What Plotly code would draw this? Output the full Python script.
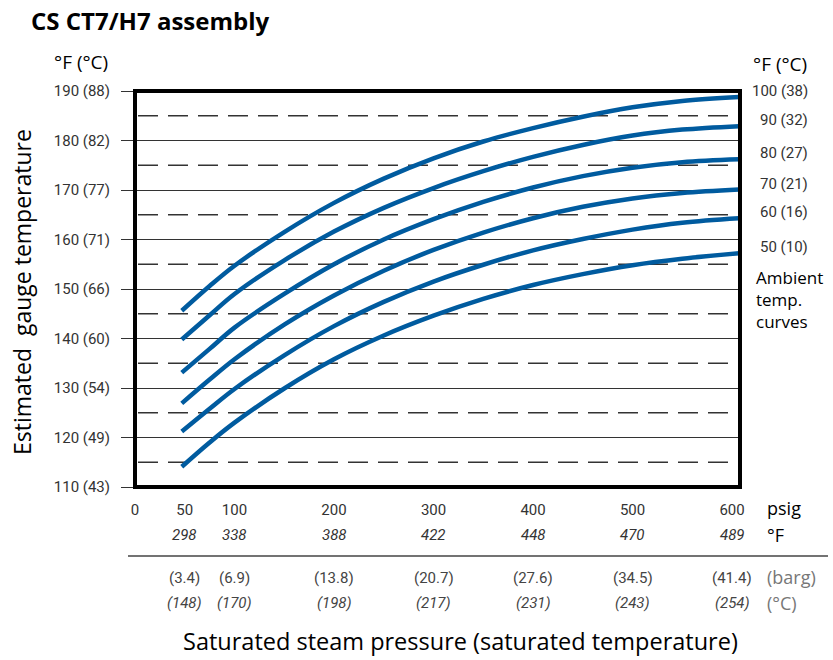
import plotly.graph_objects as go

# ---------------- data ----------------
PSIG = [47, 75, 100, 150, 200, 250, 300, 350, 400, 450, 500, 550, 607]

T_AMB_100 = [145.6, 150.6, 154.7, 161.5, 167.4, 172.3, 176.4, 179.8, 182.5, 184.8, 186.7, 188.0, 188.8]
T_AMB_90 = [139.8, 144.7, 149.0, 155.8, 161.6, 166.4, 170.4, 173.8, 176.7, 179.1, 181.0, 182.2, 182.9]
T_AMB_80 = [133.1, 137.9, 142.2, 149.0, 155.0, 160.0, 164.1, 167.6, 170.5, 172.8, 174.5, 175.6, 176.2]
T_AMB_70 = [126.9, 131.7, 135.8, 142.8, 148.7, 153.7, 157.9, 161.4, 164.3, 166.6, 168.3, 169.4, 170.1]
T_AMB_60 = [121.2, 125.8, 129.8, 136.6, 142.5, 147.4, 151.5, 154.9, 157.8, 160.1, 162.0, 163.4, 164.3]
T_AMB_50 = [114.1, 119.0, 123.0, 129.9, 135.8, 140.6, 144.6, 148.0, 150.8, 153.0, 154.8, 156.1, 157.2]

AMBIENT_LABELS = ["100 (38)", "90 (32)", "80 (27)", "70 (21)", "60 (16)", "50 (10)"]

Y_TICKS = [110, 120, 130, 140, 150, 160, 170, 180, 190]
Y_TICK_TEXT = ["110 (43)", "120 (49)", "130 (54)", "140 (60)", "150 (66)",
               "160 (71)", "170 (77)", "180 (82)", "190 (88)"]
DASHED_LEVELS = [115, 125, 135, 145, 155, 165, 175, 185]

X_TICKS = [0, 50, 100, 200, 300, 400, 500, 600]
X_TICK_TEXT = ["0", "50", "100", "200", "300", "400", "500", "600"]
SAT_TEMP_F = ["", "298", "338", "388", "422", "448", "470", "489"]
BARG = ["", "(3.4)", "(6.9)", "(13.8)", "(20.7)", "(27.6)", "(34.5)", "(41.4)"]
SAT_TEMP_C = ["", "(148)", "(170)", "(198)", "(217)", "(231)", "(243)", "(254)"]

# ---------------- layout helpers ----------------
W, H = 833, 660
L, R, T, B = 135, 740, 91, 487


def px_x(x):
    return (x - L) / (R - L)


def px_y(y):
    return (B - y) / (B - T)


BLUE = "#005b9f"
NUM_FONT = "Roboto"
TXT_FONT = "Open Sans"

fig = go.Figure()

curves = [T_AMB_100, T_AMB_90, T_AMB_80, T_AMB_70, T_AMB_60, T_AMB_50]
for vals, name in zip(curves, AMBIENT_LABELS):
    fig.add_trace(go.Scatter(
        x=PSIG, y=vals, mode="lines", name=name,
        line=dict(color=BLUE, width=4.5, shape="spline", smoothing=1.0),
        showlegend=False, hoverinfo="x+y",
    ))

shapes = []
for lvl in DASHED_LEVELS:
    shapes.append(dict(type="line", xref="paper", yref="y",
                       x0=px_x(138), x1=px_x(730), y0=lvl, y1=lvl,
                       line=dict(color="#333", width=1.3, dash="20px,10px"),
                       layer="below"))
# frame
shapes.append(dict(type="rect", xref="paper", yref="paper", x0=0, x1=1, y0=0, y1=1,
                   line=dict(color="black", width=4), layer="above"))
# separator line under °F row
shapes.append(dict(type="line", xref="paper", yref="paper",
                   x0=px_x(128), x1=px_x(828), y0=px_y(556), y1=px_y(556),
                   line=dict(color="#444", width=1.5)))

ann = []
ann.append(dict(text="<b>CS CT7/H7 assembly</b>", xref="paper", yref="paper",
                x=px_x(29), y=px_y(20), xanchor="left", yanchor="middle", showarrow=False,
                font=dict(family=TXT_FONT, size=24, color="black")))
ann.append(dict(text="°F (°C)", xref="paper", yref="paper",
                x=px_x(52), y=px_y(62), xanchor="left", yanchor="middle", showarrow=False,
                font=dict(family=TXT_FONT, size=19, color="black")))
ann.append(dict(text="°F (°C)", xref="paper", yref="paper",
                x=px_x(751), y=px_y(64), xanchor="left", yanchor="middle", showarrow=False,
                font=dict(family=TXT_FONT, size=19, color="black")))
ann.append(dict(text="Estimated  gauge temperature", xref="paper", yref="paper",
                x=px_x(22), y=px_y(292), xanchor="center", yanchor="middle", textangle=-90,
                showarrow=False, font=dict(family=TXT_FONT, size=23, color="black")))
ann.append(dict(text="Saturated steam pressure (saturated temperature)", xref="paper", yref="paper",
                x=px_x(460), y=px_y(641), xanchor="center", yanchor="middle",
                showarrow=False, font=dict(family=TXT_FONT, size=23.5, color="black")))

# ambient labels on right, at curve ends
for vals, lab in zip(curves, AMBIENT_LABELS):
    ann.append(dict(text=lab, xref="paper", yref="y", x=px_x(810), y=vals[-1],
                    xanchor="right", yanchor="middle", yshift=6, showarrow=False,
                    font=dict(family=NUM_FONT, size=15, color="#333")))
ann.append(dict(text="Ambient<br>temp.<br>curves", xref="paper", yref="paper",
                x=px_x(754), y=px_y(299), xanchor="left", yanchor="middle", align="left",
                showarrow=False, font=dict(family=TXT_FONT, size=17, color="black")))

# bottom rows
for xv, tf, bg, tc in zip(X_TICKS, SAT_TEMP_F, BARG, SAT_TEMP_C):
    if tf:
        ann.append(dict(text=f"<i>{tf}</i>", xref="x", yref="paper", x=xv, y=px_y(535),
                        xanchor="center", yanchor="middle", showarrow=False,
                        font=dict(family=NUM_FONT, size=15, color="#333")))
    if bg:
        ann.append(dict(text=bg, xref="x", yref="paper", x=xv, y=px_y(578),
                        xanchor="center", yanchor="middle", showarrow=False,
                        font=dict(family=NUM_FONT, size=15, color="#444")))
    if tc:
        ann.append(dict(text=f"<i>{tc}</i>", xref="x", yref="paper", x=xv, y=px_y(603),
                        xanchor="center", yanchor="middle", showarrow=False,
                        font=dict(family=NUM_FONT, size=15, color="#444")))

for txt, yy, col in [("psig", 508, "black"), ("°F", 535, "black"),
                     ("(barg)", 577, "#777"), ("(°C)", 603, "#777")]:
    ann.append(dict(text=txt, xref="paper", yref="paper", x=px_x(765), y=px_y(yy),
                    xanchor="left", yanchor="middle", showarrow=False,
                    font=dict(family=TXT_FONT, size=18, color=col)))

fig.update_layout(
    width=W, height=H,
    margin=dict(l=L, r=W - R, t=T, b=H - B, pad=0),
    paper_bgcolor="white", plot_bgcolor="white",
    shapes=shapes, annotations=ann,
    xaxis=dict(range=[0, 608], showgrid=False, zeroline=False, showline=False,
               tickmode="array", tickvals=X_TICKS, ticktext=X_TICK_TEXT,
               ticks="", ticklabelstandoff=12,
               tickfont=dict(family=NUM_FONT, size=15, color="#333"), fixedrange=True),
    yaxis=dict(range=[110, 190], showgrid=True, gridcolor="#333", gridwidth=1.2,
               zeroline=False, showline=False,
               tickmode="array", tickvals=Y_TICKS, ticktext=Y_TICK_TEXT,
               ticks="outside", ticklen=13, tickcolor="#333", tickwidth=1.2,
               ticklabelstandoff=8,
               tickfont=dict(family=NUM_FONT, size=15, color="#333"), fixedrange=True),
)

fig.write_html("out.html", config={"displayModeBar": False},
               post_script="document.body.style.margin='0';document.body.style.padding='0';")
